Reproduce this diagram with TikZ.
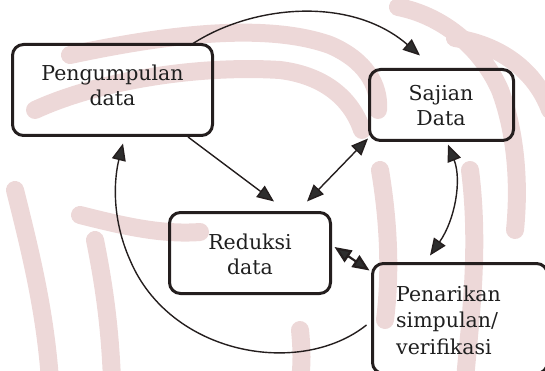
\documentclass[tikz,border=0pt]{standalone}
\usepackage{fontspec}
\setmainfont{DejaVu Serif}
\usetikzlibrary{arrows.meta}
\definecolor{ink}{HTML}{241E1E}
\definecolor{tipc}{HTML}{2E2E2E}
\definecolor{wm}{RGB}{237,216,216}
\begin{document}
\begin{tikzpicture}[x=1pt,y=-1pt,
  box/.style={draw=ink,line width=3pt,rounded corners=11pt,inner sep=0pt},
  lbl/.style={font=\fontsize{20.5}{25}\selectfont,align=center,text=black!88,inner sep=0pt},
  flow/.style={draw=ink,line width=1.4pt,-{Triangle[length=17pt,width=14pt,fill=tipc]}},
  both/.style={draw=ink,line width=1.4pt,{Triangle[length=17pt,width=14pt,fill=tipc]}-{Triangle[length=17pt,width=14pt,fill=tipc]}},
  wmstroke/.style={draw=wm,line width=18pt,line cap=round}]
\useasboundingbox (0,0) rectangle (545,371);
\begin{scope}
\clip (0,0) rectangle (545,371);
% faint emblem behind the chart
\draw[wmstroke] (70,55) .. controls (150,38) and (260,20) .. (330,45) .. controls (365,60) and (380,85) .. (378,110);
\draw[wmstroke] (35,110) .. controls (100,80) and (200,65) .. (280,70) .. controls (320,75) and (350,95) .. (362,130);
\draw[wmstroke] (398,7) .. controls (440,15) and (480,45) .. (500,90) .. controls (515,130) and (520,180) .. (515,230);
\draw[wmstroke] (455,38) .. controls (500,45) and (535,70) .. (550,110);
\draw[wmstroke] (470,170) .. controls (480,250) and (470,320) .. (465,380);
\draw[wmstroke] (380,170) .. controls (390,230) and (390,280) .. (385,320);
\draw[wmstroke] (300,330) .. controls (302,350) and (302,365) .. (300,380);
\draw[wmstroke] (80,215) .. controls (120,225) and (160,235) .. (200,232);
\draw[wmstroke] (15,190) .. controls (30,250) and (45,310) .. (50,380);
\draw[wmstroke] (95,240) .. controls (105,290) and (110,330) .. (112,380);
\end{scope}

% boxes
\node[box,minimum width=200pt,minimum height=91pt] (peng) at (112.5,90) {};
\node[box,minimum width=144pt,minimum height=71pt] (saj) at (441.5,105) {};
\node[box,minimum width=161pt,minimum height=81pt] (red) at (250,253) {};
\node[box,minimum width=175pt,minimum height=110pt] (pen) at (460,318.5) {};

% labels
\node[lbl] (pengT) at (112.5,85) {Pengumpulan\\data};
\node[lbl] (sajT) at (441,106) {Sajian\\Data};
\node[lbl] (redT) at (250,254) {Reduksi\\data};
\node[lbl,align=left,anchor=west,font=\fontsize{20.5}{26.5}\selectfont] (penT) at (396,320) {Penarikan\\simpulan/\\verifikasi};

% connectors
\draw[flow] ([shift={(-24,2.5)}]peng.north east) .. controls (250,5) and (350,-5) .. ([shift={(-21.5,-12.5)}]saj.north);
\draw[flow] ([shift={(-26,0)}]peng.south east) -- ([shift={(24,-9.5)}]red.north);
\draw[both] ([shift={(0,-3.5)}]saj.south west) -- ([shift={(57,-9.5)}]red.north);
\draw[both] ([shift={(6.5,2.5)}]saj.south) .. controls (462,180) and (455,220) .. ([shift={(-30,-6.5)}]pen.north);
\draw[both,line width=2.2pt] ([shift={(2.5,-6)}]red.east) -- ([shift={(-1.5,8.5)}]pen.north west);
\draw[flow] ([shift={(-4.5,6.5)}]pen.west) .. controls (300,378) and (170,355) .. (130,260) .. controls (110,215) and (115,175) .. ([shift={(10.5,6.5)}]peng.south);
\end{tikzpicture}
\end{document}
